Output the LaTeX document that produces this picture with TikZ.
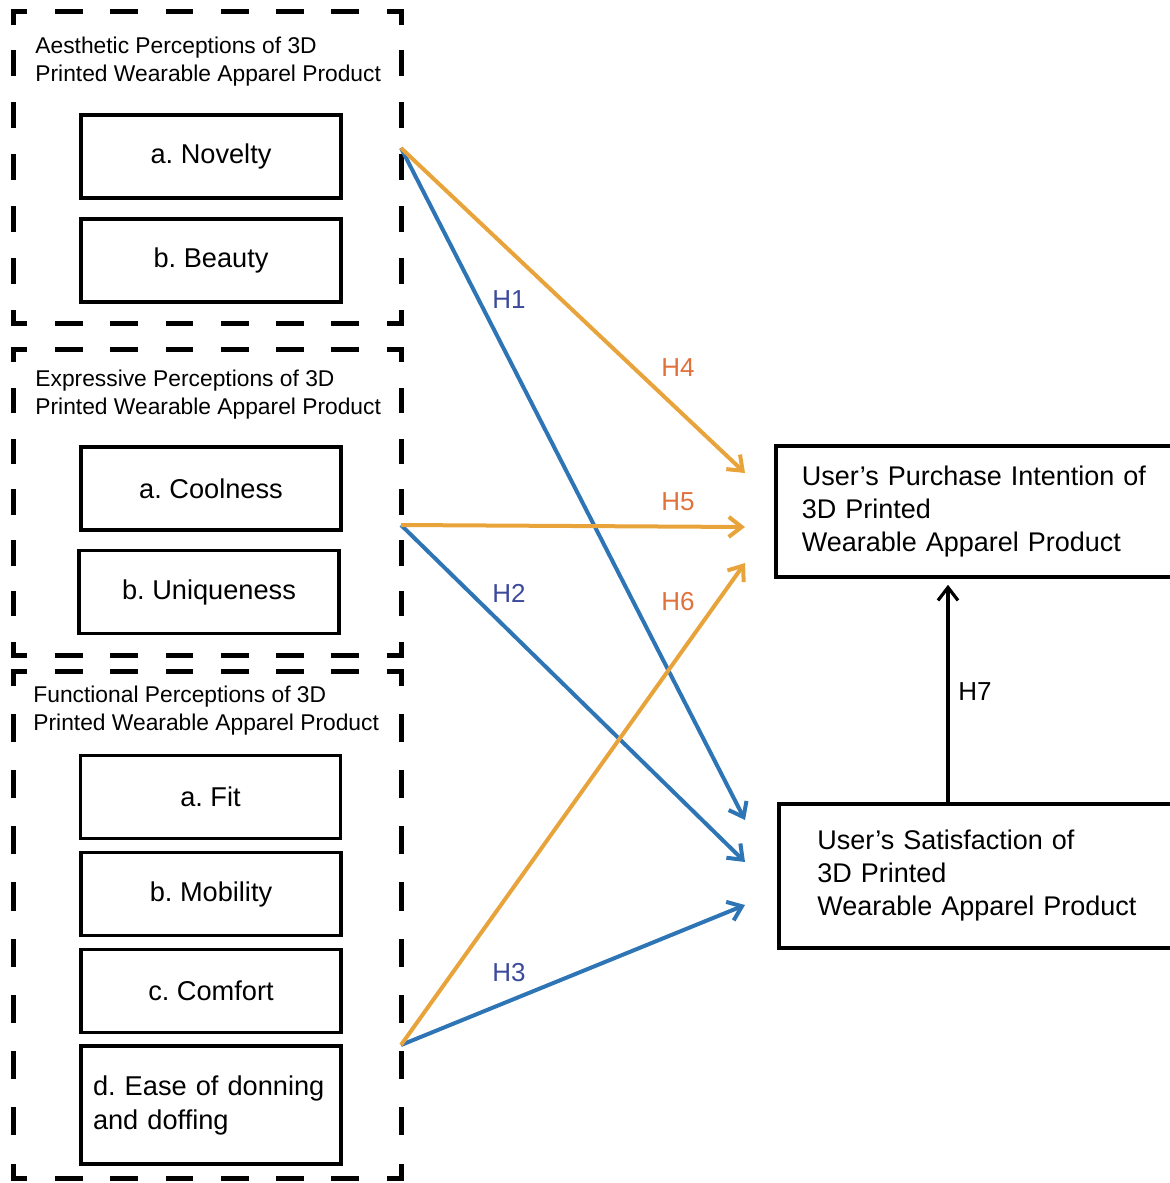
\documentclass[tikz,border=0pt]{standalone}
\usepackage{fontspec}
\setmainfont{Liberation Sans}
\frenchspacing
\usetikzlibrary{arrows.meta,positioning}
\definecolor{hypblue}{HTML}{2E75B6}
\definecolor{hyporange}{HTML}{E8A33A}
\definecolor{labblue}{HTML}{3C4A9B}
\definecolor{laborange}{HTML}{E2703A}
% dashed frame with a dash on every corner: name, width (pt), height (pt)
\newcommand{\groupframe}[3]{%
  \pgfmathsetmacro{\hon}{#2/round(#2/27.5)/2-2.2}%
  \pgfmathsetmacro{\hoff}{#2/round(#2/27.5)/2+2.2}%
  \pgfmathsetmacro{\von}{#3/round(#3/27.5)/2-2.2}%
  \pgfmathsetmacro{\voff}{#3/round(#3/27.5)/2+2.2}%
  \draw[frameline, dash pattern=on \hon pt off \hoff pt, dash phase=\hon/2 pt] (#1.north west) -- (#1.north east);
  \draw[frameline, dash pattern=on \hon pt off \hoff pt, dash phase=\hon/2 pt] (#1.south west) -- (#1.south east);
  \draw[frameline, dash pattern=on \von pt off \voff pt, dash phase=\von/2 pt] (#1.north west) -- (#1.south west);
  \draw[frameline, dash pattern=on \von pt off \voff pt, dash phase=\von/2 pt] (#1.north east) -- (#1.south east);
}
\tikzset{
  groupbox/.style={inner sep=0pt, minimum width=193.5pt},
  frameline/.style={line width=2.2pt, line cap=rect},
  grouplabel/.style={anchor=north west, inner sep=0pt, align=left, font=\fontsize{11.4}{14}\selectfont},
  itembox/.style={draw, line width=1.8pt, minimum width=130pt, minimum height=41.5pt, font=\fontsize{13.6}{17}\selectfont},
  outcome/.style={draw, line width=1.8pt, align=left, anchor=west, font=\fontsize{13.5}{16.5}\selectfont},
  hyp/.style={line width=2pt, -{Straight Barb[length=6.5pt,width=10pt]}},
  hlabel/.style={font=\fontsize{13}{15}\selectfont}
}
\begin{document}
\begin{tikzpicture}[x=0.5pt,y=-0.5pt]
  \useasboundingbox (0,0) rectangle (1169,1183);
  % perception groups
  \node[groupbox, minimum height=155.5pt] (aes) at (207.5,167.5) {};
  \node[groupbox, minimum height=152.5pt] (exp) at (207.5,502.5) {};
  \node[groupbox, minimum height=253pt] (fun) at (207.5,925) {};
  \groupframe{aes}{193.5}{155.5}
  \groupframe{exp}{193.5}{152.5}
  \groupframe{fun}{193.5}{253}
  \node[grouplabel] (aeslab) at (35,37) {Aesthetic Perceptions of 3D\\Printed Wearable Apparel Product};
  \node[grouplabel] (explab) at (35,370) {Expressive Perceptions of 3D\\Printed Wearable Apparel Product};
  \node[grouplabel] (funlab) at (33,686) {Functional Perceptions of 3D\\Printed Wearable Apparel Product};
  % items
  \node[itembox] (nov) at (211,156.5) {a. Novelty};
  \node[itembox] (bea) at (211,260.5) {b. Beauty};
  \node[itembox] (coo) at (211,488.5) {a. Coolness};
  \node[itembox] (uni) at (209,592) {b. Uniqueness};
  \node[itembox] (fit) at (210.5,797) {a. Fit};
  \node[itembox] (mob) at (211,894) {b. Mobility};
  \node[itembox] (com) at (211,991) {c. Comfort};
  \node[itembox, minimum height=59pt, text width=118pt, align=left, inner xsep=5.5pt] (eas) at (211,1105) {d. Ease of donning\\and doffing};
  % outcomes
  \node[outcome, minimum width=208pt, minimum height=65.5pt, text width=182pt, inner xsep=13pt] (pur) at (774,511.5) {User’s Purchase Intention of\\3D Printed\\Wearable Apparel Product};
  \node[outcome, minimum width=206.5pt, minimum height=72pt, text width=168pt, inner xsep=19pt] (sat) at (777,876) {User’s Satisfaction of\\3D Printed\\Wearable Apparel Product};
  % arrow ends
  \coordinate (aesout) at (401,148);
  \coordinate (expout) at (401,525);
  \coordinate (funout) at (401,1045);
  \coordinate (purin1) at (745,473);
  \coordinate (purin2) at (745,527);
  \coordinate (purin3) at (745,563);
  \coordinate (satin1) at (745,820);
  \coordinate (satin2) at (745,862);
  \coordinate (satin3) at (745,905);
  \coordinate (h7x) at (948,0);
  \draw[hyp, hypblue] (aesout) -- (satin1);
  \draw[hyp, hypblue] (expout) -- (satin2);
  \draw[hyp, hypblue] (funout) -- (satin3);
  \draw[hyp, hyporange] (aesout) -- (purin1);
  \draw[hyp, hyporange] (expout) -- (purin2);
  \draw[hyp, hyporange] (funout) -- (purin3);
  \draw[line width=1.6pt, -{Straight Barb[length=6.5pt,width=10pt]}] (sat.north -| h7x) -- ([yshift=-3pt]pur.south -| h7x);
  % hypothesis labels
  \node[hlabel, labblue] (h1) at (509,300) {H1};
  \node[hlabel, labblue] (h2) at (509,593) {H2};
  \node[hlabel, labblue] (h3) at (509,973) {H3};
  \node[hlabel, laborange] (h4) at (678,368) {H4};
  \node[hlabel, laborange] (h5) at (678,502) {H5};
  \node[hlabel, laborange] (h6) at (678,602) {H6};
  \node[hlabel] (h7) at (975,692) {H7};
\end{tikzpicture}
\end{document}
